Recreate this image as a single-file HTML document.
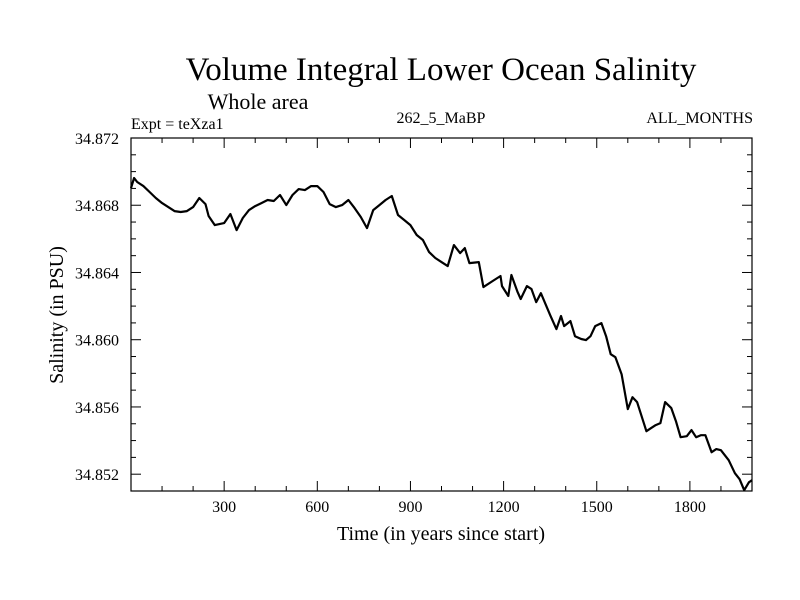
<!DOCTYPE html>
<html><head><meta charset="utf-8"><style>
html,body{margin:0;padding:0;background:#fff;}
svg{display:block;font-family:"Liberation Serif",serif;}
</style></head><body>
<svg id="chart" width="800" height="600" xmlns="http://www.w3.org/2000/svg">
<text x="441" y="80" font-size="33" text-anchor="middle">Volume Integral Lower Ocean Salinity</text>
<text x="258" y="109" font-size="22" text-anchor="middle">Whole area</text>
<text x="131" y="129" font-size="16">Expt = teXza1</text>
<text x="441" y="123" font-size="16" text-anchor="middle">262_5_MaBP</text>
<text x="753" y="123" font-size="16" text-anchor="end">ALL_MONTHS</text>
<text x="441" y="540" font-size="20" text-anchor="middle">Time (in years since start)</text>
<text transform="translate(63,315) rotate(-90)" font-size="20" text-anchor="middle">Salinity (in PSU)</text>
<g id="axes"></g>
<g id="series"></g>
</svg>
<script>
const years=[0,10,20,40,60,80,100,120,140,160,180,200,220,240,250,270,300,320,340,360,380,400,420,440,460,480,500,520,540,560,580,600,620,640,660,680,700,720,740,760,780,800,820,840,860,880,900,920,940,960,980,1000,1020,1040,1060,1075,1090,1120,1135,1165,1190,1195,1215,1225,1245,1255,1275,1290,1305,1320,1350,1370,1385,1395,1415,1430,1450,1465,1480,1495,1515,1530,1545,1560,1580,1600,1615,1630,1660,1675,1690,1705,1720,1740,1755,1770,1790,1805,1820,1835,1850,1870,1885,1900,1925,1945,1960,1975,1990,2000];
const salinity=[34.86902,34.86962,34.86938,34.86914,34.86879,34.86843,34.86813,34.86789,34.86765,34.86760,34.86765,34.86789,34.86843,34.86807,34.86736,34.86682,34.86694,34.86748,34.86652,34.86724,34.86771,34.86795,34.86813,34.86831,34.86825,34.86861,34.86801,34.86861,34.86896,34.86890,34.86914,34.86914,34.86879,34.86807,34.86789,34.86801,34.86831,34.86783,34.86730,34.86664,34.86771,34.86801,34.86831,34.86855,34.86742,34.86712,34.86682,34.86623,34.86593,34.86521,34.86486,34.86462,34.86438,34.86563,34.86515,34.86545,34.86456,34.86462,34.86313,34.86349,34.86379,34.86319,34.86260,34.86385,34.86283,34.86242,34.86319,34.86301,34.86224,34.86277,34.86146,34.86063,34.86141,34.86081,34.86111,34.86021,34.86004,34.85998,34.86021,34.86081,34.86099,34.86021,34.85914,34.85896,34.85795,34.85587,34.85658,34.85629,34.85456,34.85474,34.85492,34.85504,34.85629,34.85593,34.85516,34.85420,34.85426,34.85462,34.85420,34.85432,34.85432,34.85331,34.85349,34.85343,34.85283,34.85206,34.85170,34.85105,34.85152,34.85164];
const xTicks=[300,600,900,1200,1500,1800];
const yTicks=[34.852,34.856,34.860,34.864,34.868,34.872];
const yTickLabels=["34.852","34.856","34.860","34.864","34.868","34.872"];

const L=131,R=752,T=138,B=491,X0=0,X1=2000,Y0=34.851,Y1=34.872;
const sx=v=>L+(v-X0)/(X1-X0)*(R-L);
const sy=v=>B-(v-Y0)/(Y1-Y0)*(B-T);
const NS="http://www.w3.org/2000/svg";
const axes=document.getElementById('axes');
function mk(tag,attrs,parent){const e=document.createElementNS(NS,tag);for(const k in attrs)e.setAttribute(k,attrs[k]);parent.appendChild(e);return e;}
const frame=mk('rect',{x:L,y:T,width:R-L,height:B-T,fill:'none',stroke:'#000','stroke-width':1.2},axes);


function tick(x1,y1,x2,y2){const t=mk('line',{x1,y1,x2,y2,stroke:'#000','stroke-width':1},axes);

}
for(let v=100;v<X1;v+=100){const x=sx(v);const len=(v%300===0)?10:5;tick(x,B,x,B-len);tick(x,T,x,T+len);}
for(let i=0;i<=21;i++){const v=Y0+i*0.001;const y=sy(v);const major=((i-1)%4===0);const len=major?10:5;tick(L,y,L+len,y);tick(R,y,R-len,y);}
xTicks.forEach(v=>{const t=mk('text',{x:sx(v),y:B+21,'font-size':16,'text-anchor':'middle'},axes);t.textContent=String(v);

});
yTicks.forEach((v,i)=>{const t=mk('text',{x:L-12,y:sy(v)+6,'font-size':16,'text-anchor':'end'},axes);t.textContent=yTickLabels[i];

});
const d=years.map((yr,i)=>(i?'L':'M')+sx(yr).toFixed(1)+' '+sy(salinity[i]).toFixed(1)).join(' ');
const p=mk('path',{d,fill:'none',stroke:'#000','stroke-width':2.2,'stroke-linejoin':'round'},document.getElementById('series'));


</script>
</body></html>
